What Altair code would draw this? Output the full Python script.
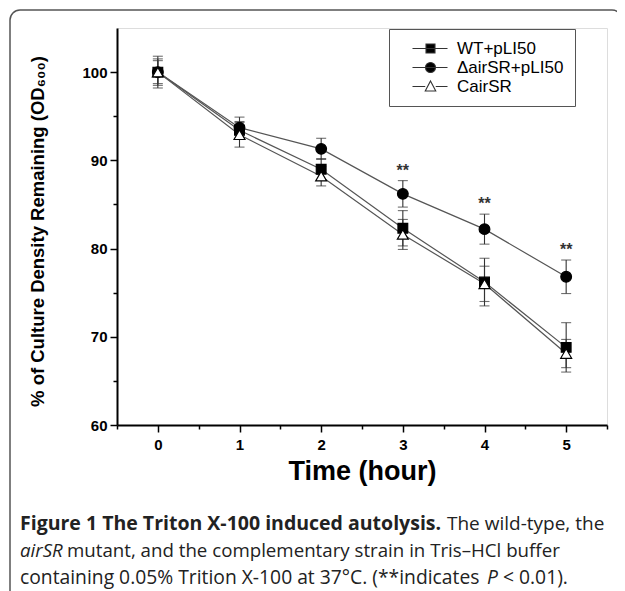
import altair as alt
import pandas as pd

# ---- data ----
times = [0, 1, 2, 3, 4, 5]
series_names = ["WT+pLI50", "ΔairSR+pLI50", "CairSR"]
wt_vals = [100.0, 93.4, 89.0, 82.3, 76.2, 68.8]
wt_err = [1.3, 1.0, 1.2, 2.0, 2.7, 2.8]
mut_vals = [100.0, 93.7, 91.3, 86.2, 82.2, 76.8]
mut_err = [1.5, 1.2, 1.2, 1.5, 1.7, 1.9]
cair_vals = [100.0, 92.9, 88.2, 81.6, 76.0, 68.1]
cair_err = [1.8, 1.4, 1.1, 1.7, 2.0, 1.6]
signif_times = [3, 4, 5]
signif_label = "**"

x_ticks = [-0.5, 0, 0.5, 1, 1.5, 2, 2.5, 3, 3.5, 4, 4.5, 5, 5.5]
y_ticks = [60, 65, 70, 75, 80, 85, 90, 95, 100]

x_title = "Time (hour)"
y_title = "% of Culture Density Remaining (OD₆₀₀)"

caption_runs = [
    # (text, style, weight, size)
    ("Figure 1 The Triton X-100 induced autolysis.", "normal", "bold", 19.5),
    ("The wild-type, the", "normal", "normal", 19),
    ("airSR", "italic", "normal", 18.7),
    ("mutant, and the complementary strain in Tris–HCl buffer", "normal", "normal", 18.7),
    ("containing 0.05% Trition X-100 at 37°C. (**indicates", "normal", "normal", 19.3),
    ("P", "italic", "normal", 19.3),
    ("< 0.01).", "normal", "normal", 19.3),
]
caption_x = [-97, 330, -97, -50, -97, 370, 386]
caption_y = [502, 502, 529, 529, 556, 556, 556]

rows = []
for name, vals, errs in [(series_names[0], wt_vals, wt_err),
                         (series_names[1], mut_vals, mut_err),
                         (series_names[2], cair_vals, cair_err)]:
    for t, v, e in zip(times, vals, errs):
        rows.append({"time": t, "value": v, "lo": v - e, "hi": v + e, "series": name})
df = pd.DataFrame(rows)

sig_df = df[(df["series"] == series_names[1]) & (df["time"].isin(signif_times))].copy()
sig_df["label"] = signif_label

W, H = 490, 397
xs = alt.Scale(domain=[-0.5, 5.5], nice=False, zero=False)
ys = alt.Scale(domain=[60, 105], nice=False, zero=False)

FONT = "Liberation Sans"

x_axis = alt.Axis(
    values=x_ticks, labelExpr="datum.value % 1 === 0 ? '' + datum.value : ''",
    title=x_title, titleFont=FONT, titleFontSize=27, titleFontWeight="bold",
    titleColor="black", titleY=46, titleBaseline="middle",
    labelFont=FONT, labelFontSize=15, labelFontWeight="bold", labelColor="black",
    labelPadding=5, grid=False, domainColor="black", domainWidth=2,
    tickColor="black", tickWidth=1.5,
    tickSize={"condition": {"test": "datum.value % 1 === 0", "value": 7}, "value": 4},
    labelOverlap=False,
)
y_axis = alt.Axis(
    values=y_ticks, labelExpr="datum.value % 10 === 0 ? datum.label : ''",
    title=y_title, titleFont=FONT, titleFontSize=18.5, titleFontWeight="bold",
    titleColor="black", titleX=-80, titleY=203, titleAngle=-90,
    titleBaseline="middle", titleAlign="center",
    labelFont=FONT, labelFontSize=15, labelFontWeight="bold", labelColor="black",
    labelPadding=3, grid=False, domainColor="black", domainWidth=2,
    tickColor="black", tickWidth=1.5,
    tickSize={"condition": {"test": "datum.value % 10 === 0", "value": 7}, "value": 4},
    labelOverlap=False,
)

base = alt.Chart(df)

lines = base.mark_line(color="#555555", strokeWidth=1.2).encode(
    x=alt.X("time:Q", scale=xs, axis=x_axis),
    y=alt.Y("value:Q", scale=ys, axis=y_axis),
    detail="series:N",
)

err_rule = base.mark_rule(color="#333333", strokeWidth=1.1).encode(
    x="time:Q", y="lo:Q", y2="hi:Q")
cap_lo = base.mark_tick(color="#333333", thickness=1.1, size=10, orient="horizontal").encode(
    x="time:Q", y="lo:Q")
cap_hi = base.mark_tick(color="#333333", thickness=1.1, size=10, orient="horizontal").encode(
    x="time:Q", y="hi:Q")

shapes = ["square", "circle", "triangle-up"]
fills = ["black", "black", "white"]
sizes = [95, 115, 120]
point_layers = []
for name, shp, fl, sz in zip(series_names, shapes, fills, sizes):
    point_layers.append(
        alt.Chart(df[df["series"] == name]).mark_point(
            shape=shp, fill=fl, filled=True, stroke="black", strokeWidth=1.2, size=sz, opacity=1
        ).encode(x="time:Q", y="value:Q")
    )

# legend-only layer (symbol = line + marker)
leg_paths = [
    "M0.8,0H7.8M3.5,-0.9H5.3V0.9H3.5Z",
    "M0.8,0H7.8M3.4,0A1,1 0 1,0 5.4,0A1,1 0 1,0 3.4,0Z",
    "M0.8,0H3.35M5.45,0H7.8M4.4,-1.1L5.45,0.9L3.35,0.9Z",
]
leg_strokes = ["#333333", "#333333", "#333333"]
legend_layer = base.mark_point(filled=True, opacity=0, strokeWidth=1.1).encode(
    x="time:Q", y="value:Q",
    shape=alt.Shape("series:N", scale=alt.Scale(domain=series_names, range=leg_paths),
                    legend=alt.Legend(title=None, orient="none", legendX=272, legendY=1,
                                      symbolSize=100, symbolOpacity=1, symbolStrokeWidth=1.1,
                                      labelFont=FONT, labelFontSize=17, labelColor="black",
                                      labelOffset=40, rowPadding=1, padding=11,
                                      strokeColor="#555555", fillColor="white")),
    fill=alt.Fill("series:N", scale=alt.Scale(domain=series_names, range=fills),
                  legend=alt.Legend(title=None)),
    stroke=alt.Stroke("series:N", scale=alt.Scale(domain=series_names, range=leg_strokes),
                      legend=alt.Legend(title=None)),
)

sig = alt.Chart(sig_df).mark_text(font=FONT, fontSize=16, fontWeight="bold", color="#333333",
                                  baseline="bottom", dy=-2).encode(
    x="time:Q", y="hi:Q", text="label:N")

frame = alt.Chart(pd.DataFrame({"k": [0]})).mark_rect(
    fillOpacity=0, stroke="#555555", strokeWidth=1.5, cornerRadius=10
).encode(x=alt.value(-107), x2=alt.value(505), y=alt.value(-18), y2=alt.value(600))

cap_layers = []
for (txt, sty, wt, fs), cx, cy in zip(caption_runs, caption_x, caption_y):
    cap_layers.append(
        alt.Chart(pd.DataFrame({"k": [0]})).mark_text(
            font="Open Sans", fontSize=fs, fontStyle=sty, fontWeight=wt, color="#222222",
            align="left", baseline="alphabetic"
        ).encode(x=alt.value(cx), y=alt.value(cy), text=alt.value(txt))
    )

chart = alt.layer(lines, err_rule, cap_lo, cap_hi, *point_layers, legend_layer, sig, frame,
                  *cap_layers).properties(
    width=W, height=H,
    autosize=alt.AutoSizeParams(type="none"),
    padding={"left": 109, "top": 20, "right": 10, "bottom": 180},
).configure_view(stroke=None).configure(background="white")

chart.save("out.html", embed_options={"renderer": "svg", "actions": False})
